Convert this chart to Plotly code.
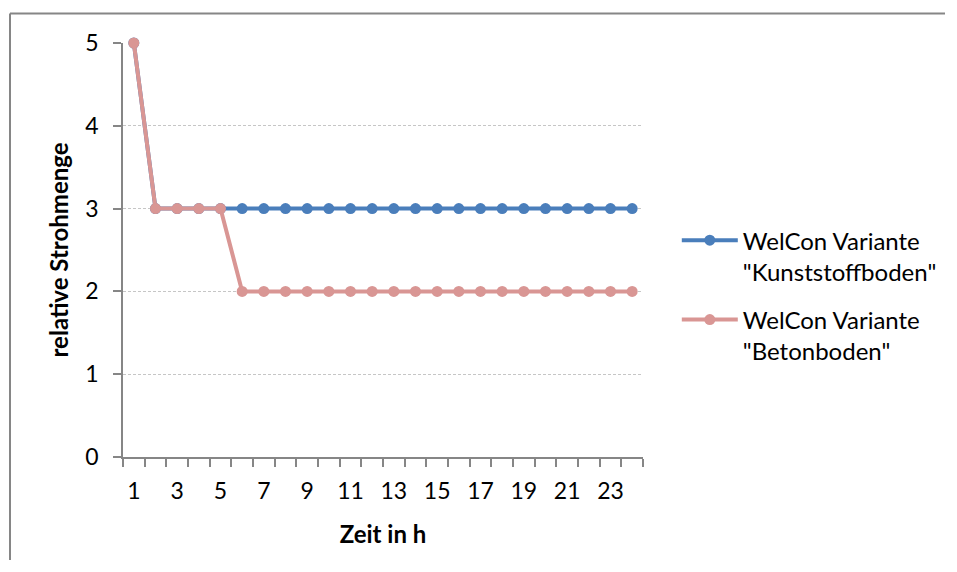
import plotly.graph_objects as go

hours = list(range(1, 25))
kunststoff = [5, 3, 3, 3, 3, 3, 3, 3, 3, 3, 3, 3, 3, 3, 3, 3, 3, 3, 3, 3, 3, 3, 3, 3]
beton = [5, 3, 3, 3, 3, 2, 2, 2, 2, 2, 2, 2, 2, 2, 2, 2, 2, 2, 2, 2, 2, 2, 2, 2]
name_k = 'WelCon Variante<br>"Kunststoffboden"'
name_b = 'WelCon Variante<br>"Betonboden"'
x_ticks = [1, 3, 5, 7, 9, 11, 13, 15, 17, 19, 21, 23]
y_ticks = [0, 1, 2, 3, 4, 5]

FONT = "Lato"
AX = "#868686"

fig = go.Figure()
fig.add_trace(go.Scatter(x=hours, y=kunststoff, name=name_k, mode="lines+markers",
                         legendgroup="k",
                         line=dict(color="#4A7EBB", width=4),
                         marker=dict(color="#4A7EBB", size=11),
                         cliponaxis=False))
fig.add_trace(go.Scatter(x=hours, y=beton, name=name_b, mode="lines+markers",
                         legendgroup="b",
                         line=dict(color="#D99694", width=4),
                         marker=dict(color="#D99694", size=11),
                         cliponaxis=False))

fig.update_layout(
    width=937, height=552,
    margin=dict(l=115, r=302, t=35, b=103, autoexpand=False),
    paper_bgcolor="white", plot_bgcolor="white",
    font=dict(family=FONT, size=23, color="black"),
    showlegend=True,
    legend=dict(x=1.065, xanchor="left", y=0.39, yanchor="middle",
                valign="top", font=dict(size=24), itemwidth=56,
                traceorder="grouped", tracegroupgap=14,
                bgcolor="rgba(0,0,0,0)"),
    xaxis=dict(range=[0.5, 24.5], tickmode="array", tickvals=x_ticks,
               ticks="", showgrid=False, zeroline=False,
               showline=True, linecolor=AX, linewidth=1.5,
               ticklabelstandoff=13,
               minor=dict(tick0=0.5, dtick=1, ticks="outside", ticklen=8,
                          tickcolor=AX, tickwidth=1.5, showgrid=False),
               title=dict(text="<b>Zeit in h</b>", font=dict(size=24), standoff=23)),
    yaxis=dict(range=[0, 5], tickmode="array", tickvals=y_ticks,
               ticks="outside", ticklen=8, tickcolor=AX, tickwidth=1.5,
               showgrid=True, gridcolor="#C6C6C6", griddash="3px,2px", gridwidth=1,
               zeroline=False, showline=True, linecolor=AX, linewidth=1.5,
               ticklabelstandoff=10,
               title=dict(text="<b>relative Strohmenge</b>", font=dict(size=24), standoff=10)),
)

# outer chart frame (only top and left edges are visible in the reference)
top_y = 1 + 29.5 / 414
left_x = -113 / 520
right_x = (937 - 115) / 520
bottom_y = -103 / 414
fig.add_shape(type="line", xref="paper", yref="paper",
              x0=left_x, x1=right_x, y0=top_y, y1=top_y,
              line=dict(color=AX, width=2), layer="below")
fig.add_shape(type="line", xref="paper", yref="paper",
              x0=left_x, x1=left_x, y0=top_y, y1=bottom_y,
              line=dict(color=AX, width=2), layer="below")

fig.write_html("out.html")
